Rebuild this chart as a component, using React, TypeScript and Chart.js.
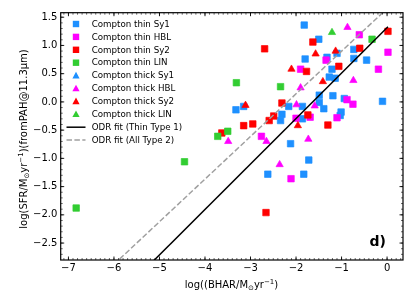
import React, { useEffect, useRef } from 'react';
import { Chart, registerables } from 'chart.js';
Chart.register(...registerables);

// ---- data ----
const X_TICKS = [-7, -6, -5, -4, -3, -2, -1, 0];
const Y_TICKS = [-2.5, -2, -1.5, -1, -0.5, 0, 0.5, 1, 1.5];
const X_MIN = -7.17, X_MAX = 0.35, Y_MIN = -2.8, Y_MAX = 1.58;

const thinSy1X = [-1.82, -1.50, -1.80, -1.32, -1.10, -0.73, -0.73, -0.45, -1.21, -1.14, -1.27, -1.49, -1.19, -1.49, -1.39, -0.94, -1.01, -1.03, -0.10, -1.86, -2.16, -2.31, -2.34, -1.86, -3.32, -3.15, -2.12, -1.72, -2.62, -1.83];
const thinSy1Y = [1.36, 1.11, 0.76, 0.79, 0.86, 0.93, 0.77, 0.74, 0.58, 0.42, 0.44, 0.12, 0.11, -0.01, -0.12, 0.06, -0.18, -0.24, 0.01, -0.08, -0.08, -0.22, -0.33, -0.30, -0.14, -0.08, -0.74, -1.03, -1.28, -1.28];

const thinHBLX = [-0.61, 0.02, -1.34, -1.90, -0.19, -0.88, -0.75, -1.10, -1.69, -2.00, -2.76, -2.11];
const thinHBLY = [1.19, 0.88, 0.74, 0.58, 0.58, 0.04, -0.04, -0.28, -0.27, -0.29, -0.61, -1.36];

const thinSy2X = [0.02, -1.63, -2.69, -0.60, -1.77, -1.06, -2.31, -2.49, -2.59, -1.74, -2.95, -3.15, -1.30, -3.63, -2.66];
const thinSy2Y = [1.25, 1.06, 0.94, 0.95, 0.54, 0.63, -0.02, -0.25, -0.33, -0.23, -0.39, -0.42, -0.41, -0.55, -1.96];

const thinLINX = [-0.33, -3.31, -2.34, -3.50, -3.72, -4.45, -6.83];
const thinLINY = [1.11, 0.34, 0.27, -0.52, -0.61, -1.06, -1.88];

const thickSy1X: number[] = [];
const thickSy1Y: number[] = [];

const thickHBLX = [-0.87, -1.90, -0.74, -1.99, -1.59, -3.49, -2.65, -1.73, -2.36];
const thickHBLY = [1.32, 0.25, 0.38, -0.05, -0.07, -0.70, -0.70, -0.66, -1.11];

const thickSy2X = [-1.57, -1.13, -2.10, -1.41, -3.11, -1.96];
const thickSy2Y = [0.85, 0.90, 0.58, 0.36, -0.06, -0.42];

const thickLINX = [-1.21];
const thickLINY = [1.23];

// ODR fits: y = slope * x + intercept
const FIT_THIN1 = { slope: 0.805, intercept: 1.315, xEnd: 0.02 };
const FIT_ALL2 = { slope: 0.755, intercept: 1.653, xEnd: 0.0 };

const BLUE = '#1e90ff', MAGENTA = '#ff00ff', RED = '#ff0000', GREEN = '#32cd32';

const LEGEND = [
  { label: 'Compton thin Sy1', kind: 'rect', color: BLUE },
  { label: 'Compton thin HBL', kind: 'rect', color: MAGENTA },
  { label: 'Compton thin Sy2', kind: 'rect', color: RED },
  { label: 'Compton thin LIN', kind: 'rect', color: GREEN },
  { label: 'Compton thick Sy1', kind: 'tri', color: BLUE },
  { label: 'Compton thick HBL', kind: 'tri', color: MAGENTA },
  { label: 'Compton thick Sy2', kind: 'tri', color: RED },
  { label: 'Compton thick LIN', kind: 'tri', color: GREEN },
  { label: 'ODR fit (Thin Type 1)', kind: 'solid', color: '#000000' },
  { label: 'ODR fit (All Type 2)', kind: 'dash', color: '#a0a0a0' },
];

const FONT = "'DejaVu Sans', sans-serif";

const zip = (xs: number[], ys: number[]) => xs.map((x, i) => ({ x, y: ys[i] }));
const fitLine = (f: { slope: number; intercept: number; xEnd: number }) =>
  [X_MIN - 0.1, f.xEnd].map((x) => ({ x, y: f.slope * x + f.intercept }));
const fmt = (v: number, d: number) => (v < 0 ? '\u2212' : '') + Math.abs(v).toFixed(d);

function drawRich(ctx: CanvasRenderingContext2D, segs: { t: string; s: number; dy: number }[], cx: number, cy: number) {
  let total = 0;
  for (const g of segs) {
    ctx.font = `${g.s}px ${FONT}`;
    total += ctx.measureText(g.t).width;
  }
  let x = cx - total / 2;
  ctx.textAlign = 'left';
  ctx.textBaseline = 'alphabetic';
  for (const g of segs) {
    ctx.font = `${g.s}px ${FONT}`;
    ctx.fillText(g.t, x, cy + g.dy);
    x += ctx.measureText(g.t).width;
  }
}

const decoPlugin = {
  id: 'deco',
  afterDraw(chart: any) {
    const { ctx, chartArea: a, scales } = chart;
    const xs = scales.x, ys = scales.y;
    ctx.save();
    ctx.strokeStyle = '#000';
    // minor ticks
    ctx.lineWidth = 0.6;
    ctx.beginPath();
    for (let i = -75; i <= 5; i++) {
      const px = xs.getPixelForValue(i * 0.1);
      if (px <= a.left + 0.5 || px >= a.right - 0.5) continue;
      ctx.moveTo(px, a.bottom); ctx.lineTo(px, a.bottom - 2);
      ctx.moveTo(px, a.top); ctx.lineTo(px, a.top + 2);
    }
    for (let i = -30; i <= 17; i++) {
      const py = ys.getPixelForValue(i * 0.1);
      if (py <= a.top + 0.5 || py >= a.bottom - 0.5) continue;
      ctx.moveTo(a.left, py); ctx.lineTo(a.left + 2, py);
      ctx.moveTo(a.right, py); ctx.lineTo(a.right - 2, py);
    }
    ctx.stroke();
    // major ticks
    ctx.lineWidth = 0.9;
    ctx.beginPath();
    for (const v of X_TICKS) {
      const px = xs.getPixelForValue(v);
      ctx.moveTo(px, a.bottom); ctx.lineTo(px, a.bottom - 3.5);
      ctx.moveTo(px, a.top); ctx.lineTo(px, a.top + 3.5);
    }
    for (const v of Y_TICKS) {
      const py = ys.getPixelForValue(v);
      ctx.moveTo(a.left, py); ctx.lineTo(a.left + 3.5, py);
      ctx.moveTo(a.right, py); ctx.lineTo(a.right - 3.5, py);
    }
    ctx.stroke();
    // frame
    ctx.lineWidth = 1.2;
    ctx.strokeRect(a.left, a.top, a.right - a.left, a.bottom - a.top);

    // legend
    const lx = 76, ly0 = 24, step = 12.9;
    LEGEND.forEach((e, i) => {
      const y = ly0 + i * step;
      ctx.fillStyle = e.color;
      ctx.strokeStyle = e.color;
      if (e.kind === 'rect') {
        ctx.fillRect(lx - 3.2, y - 3.2, 6.4, 6.4);
      } else if (e.kind === 'tri') {
        ctx.beginPath();
        ctx.moveTo(lx, y - 3.8);
        ctx.lineTo(lx - 3.6, y + 2.8);
        ctx.lineTo(lx + 3.6, y + 2.8);
        ctx.closePath();
        ctx.fill();
      } else {
        ctx.lineWidth = 1.5;
        ctx.setLineDash(e.kind === 'dash' ? [5.5, 2.4] : []);
        ctx.beginPath();
        ctx.moveTo(66.5, y); ctx.lineTo(85.5, y);
        ctx.stroke();
        ctx.setLineDash([]);
      }
      ctx.fillStyle = '#000';
      ctx.font = `8.7px ${FONT}`;
      ctx.textAlign = 'left';
      ctx.textBaseline = 'middle';
      ctx.fillText(e.label, 91.7, y + 0.5);
    });

    // axis titles
    ctx.fillStyle = '#000';
    drawRich(ctx, [
      { t: 'log((BHAR/M', s: 10, dy: 0 },
      { t: '\u2299', s: 7, dy: 2 },
      { t: 'yr', s: 10, dy: 0 },
      { t: '\u22121', s: 7, dy: -4 },
      { t: ')', s: 10, dy: 0 },
    ], 231.5, 288);
    ctx.save();
    ctx.translate(27, 139);
    ctx.rotate(-Math.PI / 2);
    drawRich(ctx, [
      { t: 'log(SFR/M', s: 10, dy: 0 },
      { t: '\u2299', s: 7, dy: 2 },
      { t: 'yr', s: 10, dy: 0 },
      { t: '\u22121', s: 7, dy: -4 },
      { t: ')(fromPAH@11.3\u03bcm)', s: 10, dy: 0 },
    ], 0, 0);
    ctx.restore();

    // panel label
    ctx.font = `bold 14px ${FONT}`;
    ctx.textAlign = 'left';
    ctx.textBaseline = 'alphabetic';
    ctx.fillText('d)', 369.5, 246);
    ctx.restore();
  },
};

function sq(data: { x: number; y: number }[], color: string) {
  return {
    type: 'scatter' as const,
    data,
    pointStyle: 'rect',
    pointRadius: 4.6,
    backgroundColor: color,
    borderColor: color + 'aa',
    borderWidth: 1,
  };
}
function tri(data: { x: number; y: number }[], color: string) {
  return {
    type: 'scatter' as const,
    data,
    pointStyle: 'triangle',
    pointRadius: 4.2,
    backgroundColor: color,
    borderColor: color + 'aa',
    borderWidth: 1,
  };
}

export default function App() {
  const ref = useRef<HTMLCanvasElement>(null);
  useEffect(() => {
    if (!ref.current) return;
    const chart = new Chart(ref.current, {
      type: 'scatter',
      data: {
        datasets: [
          {
            type: 'line',
            data: fitLine(FIT_THIN1),
            borderColor: '#000',
            borderWidth: 1.5,
            pointRadius: 0,
            fill: false,
          },
          {
            type: 'line',
            data: fitLine(FIT_ALL2),
            borderColor: '#a0a0a0',
            borderWidth: 1.5,
            borderDash: [5.5, 2.4],
            pointRadius: 0,
            fill: false,
          },
          tri(zip(thickLINX, thickLINY), GREEN),
          tri(zip(thickSy2X, thickSy2Y), RED),
          tri(zip(thickHBLX, thickHBLY), MAGENTA),
          tri(zip(thickSy1X, thickSy1Y), BLUE),
          sq(zip(thinLINX, thinLINY), GREEN),
          sq(zip(thinSy2X, thinSy2Y), RED),
          sq(zip(thinHBLX, thinHBLY), MAGENTA),
          sq(zip(thinSy1X, thinSy1Y), BLUE),
        ] as any,
      },
      options: {
        animation: false,
        responsive: false,
        maintainAspectRatio: false,
        layout: { padding: { left: 0, right: 12, top: 12.7, bottom: 0 } },
        plugins: { legend: { display: false }, tooltip: { enabled: false } },
        scales: {
          x: {
            type: 'linear',
            min: X_MIN,
            max: X_MAX,
            grid: { display: false, drawTicks: false },
            border: { display: false },
            afterBuildTicks: (s: any) => { s.ticks = X_TICKS.map((v) => ({ value: v })); },
            afterFit: (s: any) => { s.height = 48; },
            ticks: {
              color: '#000',
              padding: 2,
              maxRotation: 0,
              autoSkip: false,
              font: { family: FONT, size: 10 },
              callback: (v: any) => fmt(Number(v), 0),
            },
          },
          y: {
            type: 'linear',
            min: Y_MIN,
            max: Y_MAX,
            grid: { display: false, drawTicks: false },
            border: { display: false },
            afterBuildTicks: (s: any) => { s.ticks = Y_TICKS.map((v) => ({ value: v })); },
            afterFit: (s: any) => { s.width = 60.7; },
            ticks: {
              color: '#000',
              padding: 3.4,
              autoSkip: false,
              font: { family: FONT, size: 10 },
              callback: (v: any) => fmt(Number(v), 1),
            },
          },
        },
      },
      plugins: [decoPlugin],
    } as any);
    return () => chart.destroy();
  }, []);
  return (
    <div style={{ position: 'absolute', left: 0, top: 0, width: 415, height: 308, background: '#fff' }}>
      <canvas ref={ref} width={415} height={308} />
    </div>
  );
}
